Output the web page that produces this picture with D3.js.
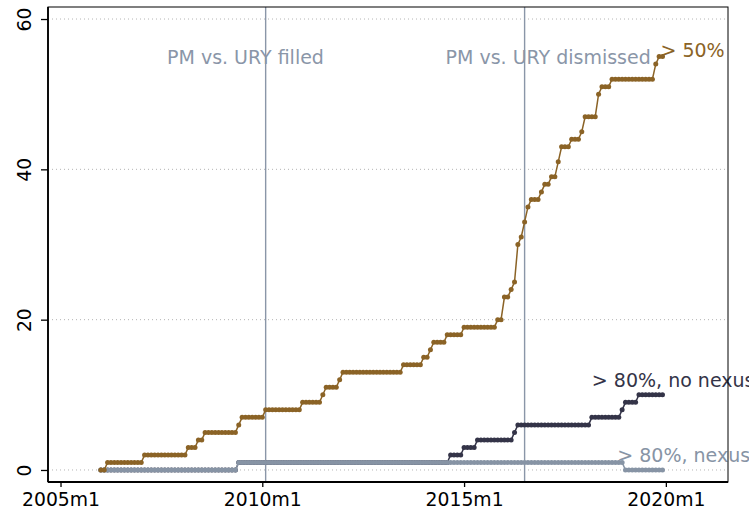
<!DOCTYPE html>
<html>
<head>
<meta charset="utf-8">
<script src="https://cdn.jsdelivr.net/npm/d3@7"></script>
<style>
body { margin: 0; background: #fff; }
text { font-family: "DejaVu Sans", sans-serif; }
</style>
</head>
<body>
<div id="showchart"></div>
<script>
// monthly, 2006m1 .. 2019m12
var years = [2006,2007,2008,2009,2010,2011,2012,2013,2014,2015,2016,2017,2018,2019];

var over50 = [
  0,0,1,1,1,1,1,1,1,1,1,1,
  1,2,2,2,2,2,2,2,2,2,2,2,
  2,2,3,3,3,4,4,5,5,5,5,5,
  5,5,5,5,5,6,7,7,7,7,7,7,
  7,8,8,8,8,8,8,8,8,8,8,8,
  9,9,9,9,9,9,10,11,11,11,11,12,
  13,13,13,13,13,13,13,13,13,13,13,13,
  13,13,13,13,13,13,14,14,14,14,14,14,
  15,15,16,17,17,17,17,18,18,18,18,18,
  19,19,19,19,19,19,19,19,19,19,20,20,
  23,23,24,25,30,31,33,35,36,36,36,37,
  38,38,39,39,41,43,43,43,44,44,44,45,
  47,47,47,47,50,51,51,51,52,52,52,52,
  52,52,52,52,52,52,52,52,52,54,55,55
];

var over80NoNexus = [
  0,0,0,0,0,0,0,0,0,0,0,0,
  0,0,0,0,0,0,0,0,0,0,0,0,
  0,0,0,0,0,0,0,0,0,0,0,0,
  0,0,0,0,0,1,1,1,1,1,1,1,
  1,1,1,1,1,1,1,1,1,1,1,1,
  1,1,1,1,1,1,1,1,1,1,1,1,
  1,1,1,1,1,1,1,1,1,1,1,1,
  1,1,1,1,1,1,1,1,1,1,1,1,
  1,1,1,1,1,1,1,1,2,2,2,2,
  3,3,3,3,4,4,4,4,4,4,4,4,
  4,4,4,5,6,6,6,6,6,6,6,6,
  6,6,6,6,6,6,6,6,6,6,6,6,
  6,6,7,7,7,7,7,7,7,7,7,8,
  9,9,9,9,10,10,10,10,10,10,10,10
];

var over80Nexus = [
  0,0,0,0,0,0,0,0,0,0,0,0,
  0,0,0,0,0,0,0,0,0,0,0,0,
  0,0,0,0,0,0,0,0,0,0,0,0,
  0,0,0,0,0,1,1,1,1,1,1,1,
  1,1,1,1,1,1,1,1,1,1,1,1,
  1,1,1,1,1,1,1,1,1,1,1,1,
  1,1,1,1,1,1,1,1,1,1,1,1,
  1,1,1,1,1,1,1,1,1,1,1,1,
  1,1,1,1,1,1,1,1,1,1,1,1,
  1,1,1,1,1,1,1,1,1,1,1,1,
  1,1,1,1,1,1,1,1,1,1,1,1,
  1,1,1,1,1,1,1,1,1,1,1,1,
  1,1,1,1,1,1,1,1,1,1,1,1,
  0,0,0,0,0,0,0,0,0,0,0,0
];

var xTickYears = [2005,2010,2015,2020];
var yTicks = [0,20,40,60];

var eventDates = ["2010m2","2016m7"];
var eventText = ["PM vs. URY filled","PM vs. URY dismissed"];
var eventTextDates = ["2009m8","2017m2"];
var eventTextValue = 54;

var labelText = ["> 80%, no nexus","> 80%, nexus","> 50%"];
var labelDates = ["2018m3","2018m11","2019m12"];
var labelValues = [11,1,55];

var colBrown = "#8b6326";
var colNavy = "#343448";
var colGray = "#8794a5";
var colLine = "#8a96a8";

// month strings
var months = [];
years.forEach(function(y){ for(var m=1;m<=12;m++) months.push(y+"m"+m); });

function tm(s){ var p = s.split("m"); return +p[0] + (+p[1]-1)/12; }

var svg_width = 749, svg_height = 515;
var pLeft = 48, pRight = 728, pTop = 7, pBottom = 482;

var mysvg = d3.select("#showchart").append("svg")
  .attr("width", svg_width)
  .attr("height", svg_height)
  .style("background","#fff");

var x = d3.scaleLinear().domain([2004.69, 2021.54]).range([pLeft, pRight]);
var y = d3.scaleLinear().domain([-1.6, 61.6]).range([pBottom, pTop]);

// grid
mysvg.selectAll("line.grid")
  .data(yTicks)
  .enter().append("line")
  .attr("class","grid")
  .attr("x1", pLeft+4).attr("x2", pRight-1)
  .attr("y1", function(d){ return y(d); })
  .attr("y2", function(d){ return y(d); })
  .attr("stroke","#b4b4b4")
  .attr("stroke-width",1)
  .attr("stroke-dasharray","1,3");

// event lines
mysvg.selectAll("line.event")
  .data(eventDates)
  .enter().append("line")
  .attr("class","event")
  .attr("x1", function(d){ return x(tm(d)); })
  .attr("x2", function(d){ return x(tm(d)); })
  .attr("y1", pTop).attr("y2", pBottom)
  .attr("stroke", colLine)
  .attr("stroke-width",1.4);

mysvg.selectAll("text.event")
  .data(eventText)
  .enter().append("text")
  .attr("class","event")
  .attr("x", function(d,i){ return x(tm(eventTextDates[i])); })
  .attr("y", y(eventTextValue))
  .attr("text-anchor","middle")
  .attr("font-size","19px")
  .attr("fill", colLine)
  .text(function(d){ return d; });

// series
var series = [
  {vals: over80NoNexus, col: colNavy},
  {vals: over80Nexus, col: colGray},
  {vals: over50, col: colBrown}
];

var line = d3.line()
  .x(function(d,i){ return x(tm(months[i])); })
  .y(function(d){ return y(d); });

series.forEach(function(s){
  var g = mysvg.append("g");
  g.append("path")
    .attr("d", line(s.vals))
    .attr("fill","none")
    .attr("stroke", s.col)
    .attr("stroke-width",1.5);
  g.selectAll("circle")
    .data(s.vals)
    .enter().append("circle")
    .attr("cx", function(d,i){ return x(tm(months[i])); })
    .attr("cy", function(d){ return y(d); })
    .attr("r", 2.5)
    .attr("fill", s.col);
});

// series labels
var labelCols = [colNavy, colGray, colBrown];
var labelDx = [0,-1.5,-2];
mysvg.selectAll("text.lab")
  .data(labelText)
  .enter().append("text")
  .attr("class","lab")
  .attr("x", function(d,i){ return x(tm(labelDates[i])) + labelDx[i]; })
  .attr("y", function(d,i){ return y(labelValues[i]); })
  .attr("font-size","19px")
  .attr("fill", function(d,i){ return labelCols[i]; })
  .text(function(d){ return d; });

// frame
mysvg.append("rect")
  .attr("x", pLeft).attr("y", pTop)
  .attr("width", pRight-pLeft).attr("height", pBottom-pTop)
  .attr("fill","none")
  .attr("stroke","#000")
  .attr("stroke-width",1);

// axes
var xAxis = mysvg.append("g")
  .attr("transform","translate(0,"+pBottom+")")
  .call(d3.axisBottom(x).tickValues(xTickYears).tickSize(5)
    .tickFormat(function(d){ return d+"m1"; }));
xAxis.select(".domain").attr("d","M"+pLeft+",0H"+pRight).attr("stroke","#000").attr("stroke-width",1.8);
xAxis.selectAll(".tick line").attr("stroke","#000").attr("stroke-width",1.3);
xAxis.selectAll(".tick text")
  .attr("y",10.5)
  .attr("font-size","18.8px")
  .attr("font-family","DejaVu Sans")
  .attr("fill","#000");

var yAxis = mysvg.append("g")
  .attr("transform","translate("+pLeft+",0)")
  .call(d3.axisLeft(y).tickValues(yTicks).tickSize(7));
yAxis.select(".domain").attr("d","M0,"+pTop+"V"+pBottom).attr("stroke","#000").attr("stroke-width",1.8);
yAxis.selectAll(".tick line").attr("stroke","#000").attr("stroke-width",1.3);
yAxis.selectAll(".tick text")
  .attr("transform","rotate(-90)")
  .attr("x",0).attr("y",-17).attr("dy",0)
  .attr("text-anchor","middle")
  .attr("font-size","18.8px")
  .attr("font-family","DejaVu Sans")
  .attr("fill","#000");
</script>
</body>
</html>
